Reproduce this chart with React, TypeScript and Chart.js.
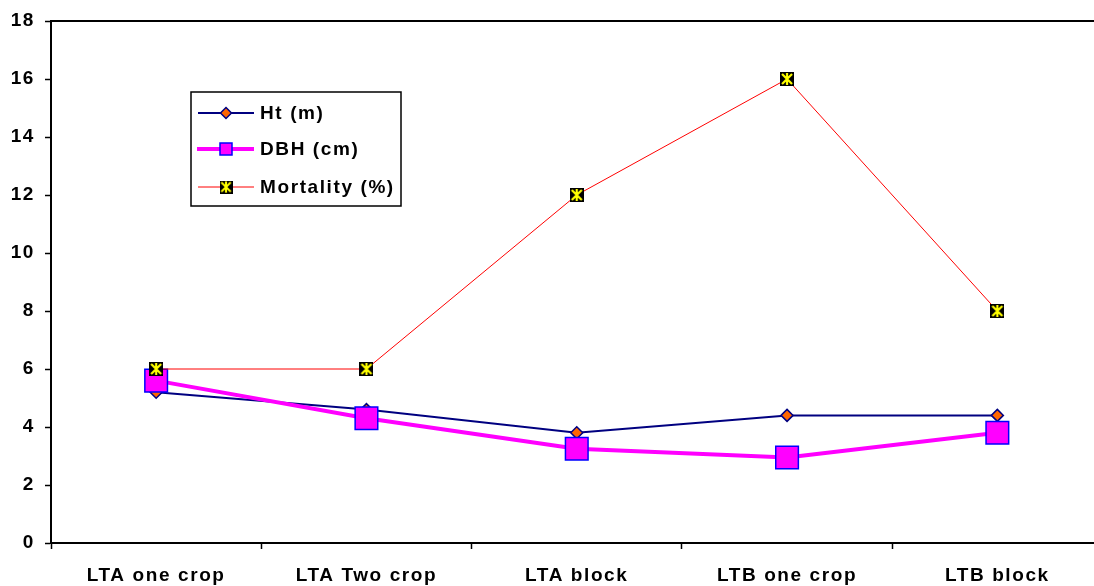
import React, { useEffect, useRef } from 'react';
import { Chart, registerables } from 'chart.js';

Chart.register(...registerables);

const categories = ['LTA one crop', 'LTA Two crop', 'LTA block', 'LTB one crop', 'LTB block'];
const htValues = [5.2, 4.6, 3.8, 4.4, 4.4];
const dbhValues = [5.6, 4.3, 3.25, 2.95, 3.8];
const mortalityValues = [6, 6, 12, 16, 8];
const seriesLabels = ['Ht (m)', 'DBH (cm)', 'Mortality (%)'];
const yMin = 0;
const yMax = 18;
const yStep = 2;

const FONT_FAMILY = '"Liberation Sans", Arial, sans-serif';
const FONT_SIZE = 19;
const LETTER_SPACING = '1.6px';

const CANVAS_W = 1120;
const CANVAS_H = 586;

function makeStarMarker(size: number): HTMLCanvasElement {
  const c = document.createElement('canvas');
  c.width = size;
  c.height = size;
  const g = c.getContext('2d')!;
  g.fillStyle = '#000000';
  g.fillRect(0, 0, size, size);
  g.strokeStyle = '#FFFF00';
  g.lineWidth = 2.2;
  g.beginPath();
  g.moveTo(2, 2);
  g.lineTo(size - 2, size - 2);
  g.moveTo(size - 2, 2);
  g.lineTo(2, size - 2);
  g.moveTo(size / 2, 1);
  g.lineTo(size / 2, size - 1);
  g.stroke();
  return c;
}

const spacingPlugin = {
  id: 'letterSpacing',
  beforeInit(chart: any) {
    (chart.ctx as any).letterSpacing = LETTER_SPACING;
  },
  beforeDraw(chart: any) {
    (chart.ctx as any).letterSpacing = LETTER_SPACING;
  },
};

const frameAndLegendPlugin = {
  id: 'frameAndLegend',
  afterDraw(chart: any) {
    const ctx: CanvasRenderingContext2D = chart.ctx;
    const { left, right, top } = chart.chartArea;
    ctx.save();
    // top border of the plot area
    ctx.strokeStyle = '#000000';
    ctx.lineWidth = 2;
    ctx.beginPath();
    ctx.moveTo(left, top);
    ctx.lineTo(right, top);
    ctx.stroke();

    // legend box
    const bx = left + 140;
    const by = top + 71;
    const bw = 210;
    const bh = 114;
    ctx.fillStyle = '#ffffff';
    ctx.fillRect(bx, by, bw, bh);
    ctx.strokeStyle = '#000000';
    ctx.lineWidth = 1.5;
    ctx.strokeRect(bx, by, bw, bh);

    const rowsY = [by + 21, by + 57, by + 95];
    const lx0 = bx + 7;
    const lx1 = bx + 63;
    const mx = bx + 35;
    const tx = bx + 69;
    const ds = chart.data.datasets;

    // Ht
    ctx.strokeStyle = ds[0].borderColor;
    ctx.lineWidth = ds[0].borderWidth;
    ctx.beginPath();
    ctx.moveTo(lx0, rowsY[0]);
    ctx.lineTo(lx1, rowsY[0]);
    ctx.stroke();
    ctx.fillStyle = ds[0].pointBackgroundColor;
    ctx.strokeStyle = ds[0].pointBorderColor;
    ctx.lineWidth = 1.5;
    const r = 5.5;
    ctx.beginPath();
    ctx.moveTo(mx, rowsY[0] - r);
    ctx.lineTo(mx + r, rowsY[0]);
    ctx.lineTo(mx, rowsY[0] + r);
    ctx.lineTo(mx - r, rowsY[0]);
    ctx.closePath();
    ctx.fill();
    ctx.stroke();

    // DBH
    ctx.strokeStyle = ds[1].borderColor;
    ctx.lineWidth = ds[1].borderWidth;
    ctx.beginPath();
    ctx.moveTo(lx0 - 1, rowsY[1]);
    ctx.lineTo(lx1, rowsY[1]);
    ctx.stroke();
    ctx.fillStyle = ds[1].pointBackgroundColor;
    ctx.strokeStyle = ds[1].pointBorderColor;
    ctx.lineWidth = 1.5;
    ctx.fillRect(mx - 6, rowsY[1] - 6, 12, 12);
    ctx.strokeRect(mx - 6, rowsY[1] - 6, 12, 12);

    // Mortality
    ctx.strokeStyle = ds[2].borderColor;
    ctx.lineWidth = ds[2].borderWidth;
    ctx.beginPath();
    ctx.moveTo(lx0, rowsY[2]);
    ctx.lineTo(lx1, rowsY[2]);
    ctx.stroke();
    const img = ds[2].pointStyle as HTMLCanvasElement;
    ctx.drawImage(img, mx - 6.5, rowsY[2] - 6.5, 13, 13);

    // texts
    (ctx as any).letterSpacing = LETTER_SPACING;
    ctx.fillStyle = '#000000';
    ctx.font = `bold ${FONT_SIZE}px ${FONT_FAMILY}`;
    ctx.textAlign = 'left';
    ctx.textBaseline = 'middle';
    seriesLabels.forEach((lbl, i) => {
      ctx.fillText(lbl, tx, rowsY[i] + 1);
    });
    ctx.restore();
  },
};

export default function App() {
  const canvasRef = useRef<HTMLCanvasElement | null>(null);

  useEffect(() => {
    const canvas = canvasRef.current;
    if (!canvas) return;
    const starMarker = makeStarMarker(14);
    const chart = new Chart(canvas, {
      type: 'line',
      data: {
        labels: categories,
        datasets: [
          {
            label: seriesLabels[0],
            data: htValues,
            borderColor: '#000080',
            borderWidth: 2,
            pointStyle: 'rectRot',
            pointRadius: 6,
            pointHoverRadius: 6,
            pointBackgroundColor: '#FF6600',
            pointBorderColor: '#000080',
            pointBorderWidth: 1.5,
            tension: 0,
            fill: false,
            order: 3,
          },
          {
            label: seriesLabels[1],
            data: dbhValues,
            borderColor: '#FF00FF',
            borderWidth: 4,
            pointStyle: 'rect',
            pointRadius: 16,
            pointHoverRadius: 16,
            pointBackgroundColor: '#FF00FF',
            pointBorderColor: '#0000FF',
            pointBorderWidth: 1.5,
            tension: 0,
            fill: false,
            order: 2,
          },
          {
            label: seriesLabels[2],
            data: mortalityValues,
            borderColor: '#FF0000',
            borderWidth: 1,
            pointStyle: starMarker as any,
            pointRadius: 7,
            pointHoverRadius: 7,
            tension: 0,
            fill: false,
            order: 1,
          },
        ],
      },
      options: {
        responsive: false,
        animation: false,
        devicePixelRatio: 1,
        layout: { padding: { top: 21, right: CANVAS_W - 1105, left: 0, bottom: 0 } },
        plugins: {
          legend: { display: false },
          tooltip: { enabled: false },
          title: { display: false },
        },
        scales: {
          x: {
            type: 'category',
            offset: true,
            grid: {
              offset: true,
              drawOnChartArea: false,
              drawTicks: true,
              tickLength: 6,
              tickColor: '#000000',
              tickWidth: 1.5,
            },
            border: { display: true, color: '#000000', width: 2 },
            ticks: {
              color: '#000000',
              font: { family: FONT_FAMILY, size: FONT_SIZE, weight: 'bold' },
              padding: 15,
              maxRotation: 0,
              autoSkip: false,
            },
            afterFit(scale: any) {
              scale.height = 43;
              scale.paddingLeft = 0;
              scale.paddingRight = 0;
            },
          },
          y: {
            min: yMin,
            max: yMax,
            grid: {
              drawOnChartArea: false,
              drawTicks: true,
              tickLength: 6,
              tickColor: '#000000',
              tickWidth: 1.5,
            },
            border: { display: true, color: '#000000', width: 2 },
            ticks: {
              stepSize: yStep,
              color: '#000000',
              font: { family: FONT_FAMILY, size: FONT_SIZE, weight: 'bold' },
              padding: 10,
            },
            afterFit(scale: any) {
              scale.width = 51;
              scale.paddingTop = 0;
              scale.paddingBottom = 0;
            },
          },
        },
      },
      plugins: [spacingPlugin, frameAndLegendPlugin],
    });
    return () => chart.destroy();
  }, []);

  return (
    <div
      style={{
        position: 'absolute',
        left: 0,
        top: 0,
        width: 1094,
        height: 586,
        overflow: 'hidden',
        background: '#ffffff',
      }}
    >
      <canvas
        ref={canvasRef}
        width={CANVAS_W}
        height={CANVAS_H}
        style={{ display: 'block', width: CANVAS_W, height: CANVAS_H }}
      />
    </div>
  );
}
